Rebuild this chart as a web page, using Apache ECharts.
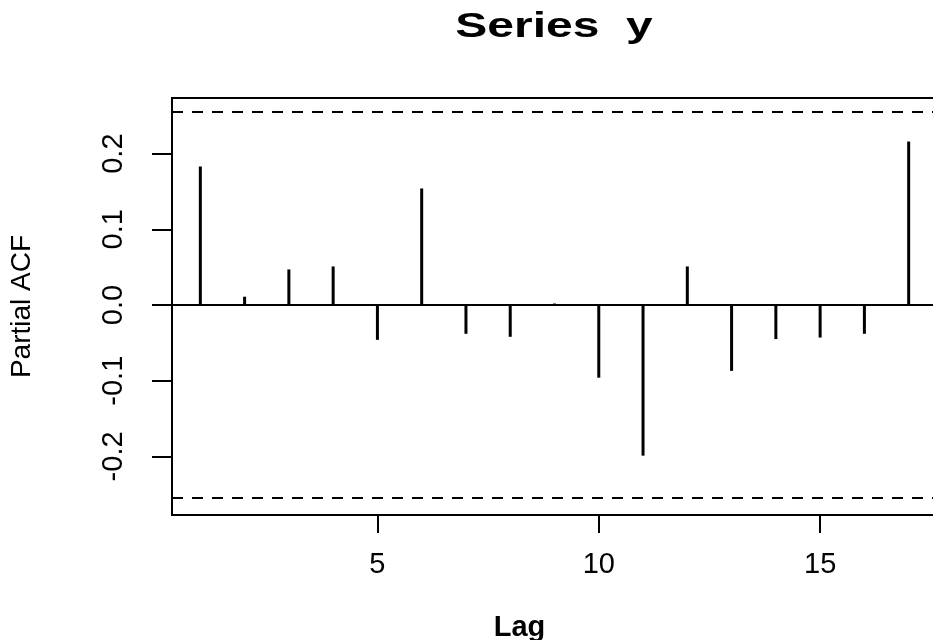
<!DOCTYPE html>
<html>
<head>
<meta charset="utf-8">
<script src="https://cdn.jsdelivr.net/npm/echarts@6/dist/echarts.min.js"></script>
<style>
  html, body { margin: 0; padding: 0; background: #fff; }
  #chart { width: 933px; height: 640px; }
</style>
</head>
<body>
<div id="chart"></div>
<script>
// Partial autocorrelations
const lags = [1, 2, 3, 4, 5, 6, 7, 8, 9, 10, 11, 12, 13, 14, 15, 16, 17];
const pacf = [0.183, 0.011, 0.047, 0.051, -0.046, 0.154, -0.038, -0.042, 0.002,
  -0.096, -0.199, 0.051, -0.087, -0.045, -0.043, -0.038, 0.216];
const clim = 0.255;
const xTicks = [5, 10, 15];
const yTicks = [-0.2, -0.1, 0, 0.1, 0.2];

const font = '"Liberation Sans", Arial, Helvetica, sans-serif';

const chart = echarts.init(document.getElementById('chart'));

const option = {
  animation: false,
  backgroundColor: '#fff',
  // title drawn as a graphic text so it can be stretched like the scan
  graphic: [
    {
      type: 'text',
      x: 554,
      y: 10,
      scaleX: 1.37,
      style: {
        text: 'Series  y',
        x: 0,
        y: 0,
        align: 'center',
        verticalAlign: 'top',
        font: 'bold 35px ' + font,
        fill: '#000',
      },
    },
  ],
  grid: {
    left: 172,
    top: 98,
    right: -4,
    bottom: 125,
    outerBoundsMode: 'none',
    containLabel: false,
    show: true,
    borderColor: '#000',
    borderWidth: 2,
  },
  xAxis: {
    type: 'value',
    min: 0.36,
    max: 17.64,
    name: 'Lag',
    nameLocation: 'middle',
    nameGap: 98,
    nameTextStyle: { fontFamily: font, fontSize: 29, fontWeight: 'bold', color: '#000', padding: [0, 70, 0, 0] },
    splitLine: { show: false },
    axisLine: { show: true, onZero: false, lineStyle: { color: '#000', width: 2 } },
    axisTick: { show: true, length: 18, customValues: xTicks, lineStyle: { color: '#000', width: 2 } },
    axisLabel: { customValues: xTicks, margin: 35, fontFamily: font, fontSize: 29, color: '#000' },
  },
  yAxis: {
    type: 'value',
    min: -0.2774,
    max: 0.2735,
    name: 'Partial ACF',
    nameLocation: 'middle',
    nameGap: 136,
    nameTextStyle: { fontFamily: font, fontSize: 28, color: '#000' },
    splitLine: { show: false },
    axisLine: { show: true, lineStyle: { color: '#000', width: 2 } },
    axisTick: { show: true, length: 20, customValues: yTicks, lineStyle: { color: '#000', width: 2 } },
    axisLabel: {
      customValues: yTicks,
      rotate: 90,
      margin: 44,
      fontFamily: font,
      fontSize: 29,
      color: '#000',
      formatter: (v) => v.toFixed(1),
    },
  },
  series: [
    {
      type: 'bar',
      barWidth: 3,
      itemStyle: { color: '#000' },
      data: lags.map((l, i) => [l, pacf[i]]),
      markLine: {
        silent: true,
        symbol: 'none',
        precision: 4,
        label: { show: false },
        data: [
          { yAxis: 0, lineStyle: { type: 'solid', color: '#000', width: 2 } },
          { yAxis: clim, lineStyle: { type: [11, 9], color: '#000', width: 2 } },
          { yAxis: -clim, lineStyle: { type: [11, 9], color: '#000', width: 2 } },
        ],
      },
    },
  ],
};

chart.setOption(option);
</script>
</body>
</html>
